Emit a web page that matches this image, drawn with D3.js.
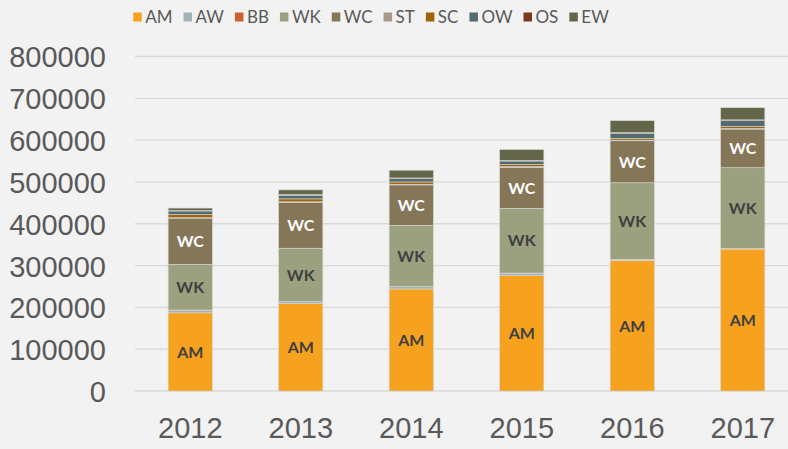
<!DOCTYPE html>
<html>
<head>
<meta charset="utf-8">
<script src="https://cdn.jsdelivr.net/npm/d3@7"></script>
<style>
  body { margin: 0; background: #f2f2f2; }
  svg { display: block; font-family: "Lato", "Open Sans", sans-serif; }
</style>
</head>
<body>
<div id="chart"></div>
<script>
    const years = ["2012", "2013", "2014", "2015", "2016", "2017"];
    const seriesNames = ["AM", "AW", "BB", "WK", "WC", "ST", "SC", "OW", "OS", "EW"];
    const colors = ["#f6a21e", "#a2b3b8", "#c9622e", "#9ba07f", "#857657", "#a59a8c", "#a0640a", "#546a72", "#7b3a1e", "#636649"];
    const yTicks = [0, 100000, 200000, 300000, 400000, 500000, 600000, 700000, 800000];
    const labelled = ["AM", "WK", "WC"];

    const AM = [187000, 209000, 244000, 276000, 311500, 339500];
    const AW = [6000, 4500, 5500, 5500, 1500, 1000];
    const BB = [500, 500, 500, 500, 2000, 500];
    const WK = [109500, 127500, 146000, 155000, 183000, 193000];
    const WC = [110500, 109000, 97000, 98000, 100500, 92500];
    const ST = [1000, 2000, 1500, 1500, 1500, 1500];
    const SC = [7500, 7000, 5500, 5000, 4000, 4500];
    const OW = [8500, 8500, 8000, 8500, 12000, 14500];
    const OS = [1000, 2000, 1500, 1500, 2000, 1500];
    const EW = [6000, 11000, 18500, 26000, 28500, 29000];

    const seriesValues = { AM, AW, BB, WK, WC, ST, SC, OW, OS, EW };

    // rows for d3.stack
    const table = years.map(function (y, i) {
        const row = { year: y };
        seriesNames.forEach(function (s) { row[s] = seriesValues[s][i]; });
        return row;
    });

    const w = 788;
    const h = 449;

    const svg = d3.select('#chart')
        .append('svg')
        .attr('width', w)
        .attr('height', h);

    svg.append('rect')
        .attr('width', w)
        .attr('height', h)
        .attr('fill', '#f2f2f2');

    const xScale = d3.scaleBand()
        .domain(years)
        .range([135, 798])
        .paddingInner(0.6)
        .paddingOuter(0.3);

    const yScale = d3.scaleLinear()
        .domain([0, 800000])
        .range([391, 56.5]);

    const color = d3.scaleOrdinal()
        .domain(seriesNames)
        .range(colors);

    // gridlines
    svg.append('g')
        .selectAll('line')
        .data(yTicks)
        .enter()
        .append('line')
        .attr('x1', 135)
        .attr('x2', w)
        .attr('y1', (d) => yScale(d))
        .attr('y2', (d) => yScale(d))
        .attr('stroke', '#d9d9d9')
        .attr('stroke-width', 1.3);

    const yAxis = d3.axisLeft(yScale)
        .tickValues(yTicks)
        .tickSize(0)
        .tickPadding(0)
        .tickFormat(d3.format('d'));

    const yG = svg.append('g')
        .attr('transform', 'translate(106,0)')
        .call(yAxis);
    yG.select('.domain').remove();
    yG.selectAll('text')
        .attr('fill', '#595959')
        .style('font-size', '29px')
        .attr('dy', '0.36em');

    const xAxis = d3.axisBottom(xScale)
        .tickSize(0)
        .tickPadding(0);

    const xG = svg.append('g')
        .attr('transform', 'translate(0,417)')
        .call(xAxis);
    xG.select('.domain').remove();
    xG.selectAll('text')
        .attr('fill', '#595959')
        .style('font-size', '29px')
        .attr('dy', '0.71em');

    const stacked = d3.stack().keys(seriesNames)(table);

    const layers = svg.append('g')
        .selectAll('g')
        .data(stacked)
        .enter()
        .append('g')
        .attr('fill', (d) => color(d.key));

    layers.selectAll('rect')
        .data((d) => d)
        .enter()
        .append('rect')
        .attr('x', (d) => xScale(d.data.year))
        .attr('width', xScale.bandwidth())
        .attr('y', (d) => yScale(d[1]))
        .attr('height', (d) => yScale(d[0]) - yScale(d[1]))
        .attr('stroke', '#d8d8d2')
        .attr('stroke-width', 0.6);

    // segment labels
    stacked.filter((s) => labelled.indexOf(s.key) >= 0).forEach(function (s) {
        svg.append('g')
            .selectAll('text')
            .data(s)
            .enter()
            .append('text')
            .attr('x', (d) => xScale(d.data.year) + xScale.bandwidth() / 2)
            .attr('y', (d) => (yScale(d[0]) + yScale(d[1])) / 2)
            .attr('dy', '0.36em')
            .attr('text-anchor', 'middle')
            .attr('fill', s.key == 'WC' ? '#ffffff' : '#404040')
            .style('font-size', '16px')
            .style('font-weight', 'bold')
            .text(s.key);
    });

    // legend
    const legend = svg.append('g');
    const items = legend.selectAll('g')
        .data(seriesNames)
        .enter()
        .append('g');

    items.append('rect')
        .attr('y', 12.5)
        .attr('width', 8.5)
        .attr('height', 9)
        .attr('fill', (d) => color(d));

    items.append('text')
        .attr('x', 12)
        .attr('y', 17)
        .attr('dy', '0.36em')
        .attr('fill', '#595959')
        .style('font-size', '17px')
        .text((d) => d);

    let pos = 0;
    items.each(function () {
        const g = d3.select(this);
        g.attr('transform', 'translate(' + pos + ',0)');
        pos += 12 + g.select('text').node().getComputedTextLength() + 11;
    });
    pos -= 11;
    legend.attr('transform', 'translate(' + (371 - pos / 2) + ',0)');
</script>
</body>
</html>
